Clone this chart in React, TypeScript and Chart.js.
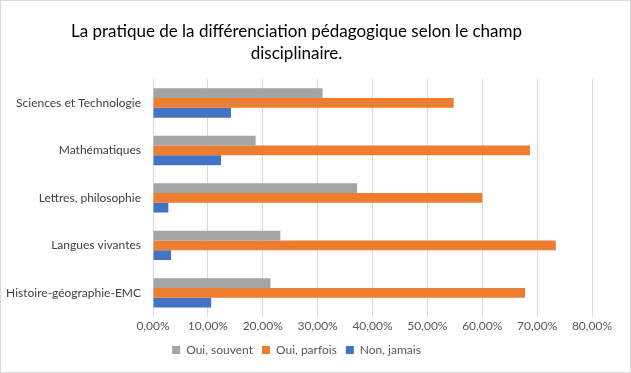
import React, { useEffect, useRef } from "react";
import { Chart, registerables } from "chart.js";

Chart.register(...registerables);

const categories = [
  "Sciences et Technologie",
  "Mathématiques",
  "Lettres, philosophie",
  "Langues vivantes",
  "Histoire-géographie-EMC",
];
const ouiSouvent = [30.9, 18.7, 37.2, 23.2, 21.4];
const ouiParfois = [54.8, 68.7, 60.0, 73.4, 67.8];
const nonJamais = [14.2, 12.4, 2.8, 3.3, 10.6];
const titleLines = ["La pratique de la différenciation pédagogique selon le champ", "disciplinaire."];

const FONT = "Lato, 'Open Sans', 'Liberation Sans', sans-serif";

export default function App() {
  const ref = useRef<HTMLCanvasElement | null>(null);
  useEffect(() => {
    document.body.style.margin = "0";
    const ctx = ref.current!;
    const chart = new Chart(ctx, {
      type: "bar",
      data: {
        labels: categories,
        datasets: [
          { label: "Oui, souvent", data: ouiSouvent, backgroundColor: "#a5a5a5" },
          { label: "Oui, parfois", data: ouiParfois, backgroundColor: "#ed7d31" },
          { label: "Non, jamais", data: nonJamais, backgroundColor: "#4472c4" },
        ],
      },
      options: {
        indexAxis: "y",
        animation: false,
        responsive: false,
        maintainAspectRatio: false,
        datasets: { bar: { categoryPercentage: 0.62, barPercentage: 1 } },
        layout: { padding: { left: 0, right: 38, top: 19, bottom: 6 } },
        plugins: {
          title: {
            display: true,
            text: titleLines,
            color: "#000",
            font: { family: FONT, size: 17, weight: "normal", lineHeight: 1.3 },
            padding: { top: 0, bottom: 15 },
          },
          legend: {
            position: "bottom",
            labels: {
              boxWidth: 8,
              boxHeight: 8,
              color: "#595959",
              font: { family: FONT, size: 12 },
              padding: 9,
            },
          },
          tooltip: { enabled: false },
        },
        scales: {
          x: {
            min: 0,
            max: 80,
            ticks: {
              stepSize: 10,
              color: "#595959",
              font: { family: FONT, size: 12 },
              padding: 2,
              callback: (v: any) => Number(v).toFixed(2).replace(".", ",") + "%",
            },
            grid: { color: "#d9d9d9", drawTicks: false },
            border: { display: false },
          },
          y: {
            ticks: {
              color: "#404040",
              font: { family: FONT, size: 12 },
              padding: 12,
            },
            grid: { display: false, drawTicks: false },
            border: { display: false },
            afterFit: (scale: any) => {
              scale.width = 152;
            },
          },
        },
      },
    });
    return () => chart.destroy();
  }, []);
  return (
    <div
      style={{
        position: "fixed",
        left: 0,
        top: 0,
        width: 631,
        height: 373,
        boxSizing: "border-box",
        border: "1px solid #d9d9d9",
        background: "#fff",
      }}
    >
      <canvas ref={ref} width={629} height={371} style={{ display: "block" }} />
    </div>
  );
}
